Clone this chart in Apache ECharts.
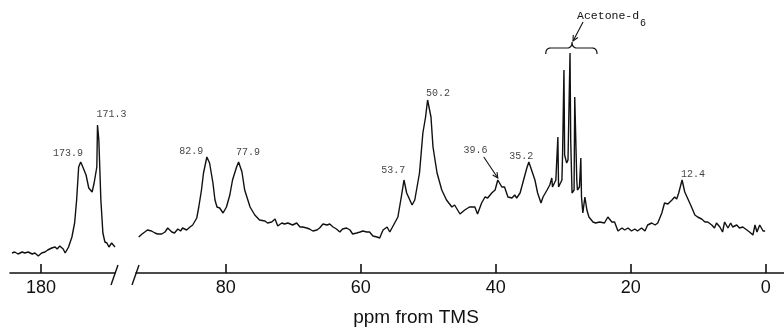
<!DOCTYPE html>
<html>
<head>
<meta charset="utf-8">
<script src="https://cdn.jsdelivr.net/npm/echarts@6/dist/echarts.min.js"></script>
<style>
  html, body { margin: 0; padding: 0; background: #fff; }
  #main { width: 784px; height: 329px; }
</style>
</head>
<body>
<div id="main"></div>
<script>
// 13C spectrum: [ppm, intensity]
const carbonylTrace = [
  [184.3, 2], [183.9, 3], [183.4, 1], [182.8, 3], [182.4, 2], [181.9, 3], [181.3, 1], [180.9, 2],
  [180.4, -1], [179.9, 2], [179.4, 3], [179.0, 5], [178.4, 7], [177.9, 8], [177.6, 6], [177.2, 9],
  [176.7, 6], [176.4, 2], [175.9, 8], [175.4, 18], [175.0, 32], [174.7, 55], [174.4, 88], [174.1, 93],
  [173.9, 90], [173.3, 80], [172.9, 67], [172.4, 63], [172.1, 72], [171.7, 88], [171.6, 130], [171.4, 115],
  [171.1, 55], [170.8, 22], [170.5, 13], [170.2, 12], [169.9, 8], [169.5, 12], [169.0, 8]
];

const aliphaticTrace = [
  [92.9, 18], [92.4, 21], [92.0, 23], [91.6, 25], [91.0, 24], [90.5, 22], [90.1, 21], [89.5, 21],
  [89.0, 23], [88.6, 27], [88.0, 23], [87.6, 22], [87.1, 26], [86.7, 24], [86.4, 27], [85.8, 25],
  [85.3, 28], [84.9, 30], [84.3, 37], [84.0, 48], [83.6, 65], [83.3, 82], [82.8, 98], [82.4, 92],
  [81.9, 72], [81.6, 55], [81.3, 48], [80.9, 47], [80.4, 42], [79.9, 48], [79.4, 60], [79.0, 75],
  [78.4, 88], [78.1, 93], [77.6, 83], [77.2, 65], [76.4, 48], [75.7, 40], [75.0, 35], [74.2, 34],
  [73.8, 32], [73.2, 33], [72.7, 36], [72.3, 29], [71.7, 32], [71.3, 31], [70.8, 32], [70.1, 30],
  [69.5, 32], [69.0, 28], [68.6, 28], [68.0, 27], [67.6, 26], [67.1, 24], [66.5, 25], [66.1, 27],
  [65.6, 31], [65.0, 30], [64.6, 31], [64.1, 28], [63.6, 26], [63.1, 23], [62.7, 26], [62.1, 27],
  [61.6, 25], [61.2, 21], [60.6, 22], [60.1, 23], [59.7, 24], [59.1, 23], [58.7, 23], [58.2, 19],
  [57.6, 18], [57.2, 17], [56.7, 25], [56.1, 28], [55.7, 23], [55.3, 28], [54.5, 38], [53.9, 62],
  [53.6, 75], [53.2, 62], [52.4, 50], [52.0, 55], [51.3, 82], [50.8, 122], [50.4, 138], [50.1, 155],
  [49.6, 138], [49.3, 108], [48.7, 82], [48.0, 65], [47.3, 55], [46.5, 48], [46.1, 50], [45.3, 41],
  [44.6, 45], [43.9, 48], [43.1, 48], [42.7, 41], [42.1, 52], [41.6, 58], [41.2, 57], [40.6, 62],
  [40.1, 65], [39.7, 75], [39.1, 68], [38.7, 68], [38.2, 58], [37.6, 57], [37.2, 60], [36.9, 57],
  [36.4, 62], [36.0, 72], [35.4, 87], [35.1, 93], [34.7, 85], [34.2, 75], [33.8, 62], [33.3, 52],
  [33.0, 58], [32.4, 65], [32.0, 70], [31.7, 77], [31.6, 68], [31.1, 75], [30.8, 118], [30.7, 68],
  [30.2, 75], [30.1, 102], [29.9, 185], [29.8, 100], [29.5, 92], [29.3, 95], [29.0, 202], [28.9, 115],
  [28.7, 62], [28.4, 65], [28.3, 158], [28.0, 75], [27.9, 65], [27.6, 68], [27.4, 97], [27.3, 58],
  [27.1, 42], [26.8, 58], [26.5, 45], [26.2, 38], [25.6, 33], [25.2, 32], [24.6, 33], [23.9, 32],
  [23.4, 38], [22.8, 33], [22.4, 33], [21.9, 24], [21.3, 27], [20.9, 25], [20.4, 27], [19.9, 24],
  [19.4, 26], [19.0, 24], [18.4, 27], [17.9, 24], [17.5, 30], [16.9, 32], [16.4, 30], [16.0, 32],
  [15.4, 42], [15.0, 52], [14.5, 51], [13.9, 55], [13.5, 58], [13.2, 56], [12.9, 62], [12.4, 75],
  [12.0, 63], [11.6, 57], [11.0, 48], [10.5, 40], [10.1, 38], [9.5, 36], [9.0, 33], [8.6, 33],
  [8.0, 30], [7.6, 27], [7.3, 32], [6.8, 28], [6.4, 23], [6.1, 33], [5.6, 27], [5.2, 32],
  [4.9, 28], [4.3, 30], [3.9, 27], [3.4, 28], [2.8, 25], [2.4, 23], [1.9, 20], [1.6, 30],
  [1.3, 23], [0.9, 30], [0.4, 24], [0.1, 24]
];

// labelled peaks
const peakPpm = [173.9, 171.3, 82.9, 77.9, 53.7, 50.2, 39.6, 35.2, 12.4];
const peakHeight = [93, 130, 98, 93, 75, 155, 75, 93, 75];
const peakPanel = [0, 0, 1, 1, 1, 1, 1, 1, 1];

// tick labels
const leftTicks = [180];
const rightTicks = [80, 60, 40, 20, 0];

// solvent bracket (ppm span) and tip
const solventSpan = [32.6, 25.0];
const solventTip = 28.7;

// label offsets from their peak (style only)
const labelOffsets = [[-14, -9], [12, -11], [-15, -6], [8, -10], [-10, -10], [11, -7], [-23, -30], [-7, -6], [11, -6]];

const ink = '#111';

const axisCommon = {
  type: 'value',
  inverse: true,
  axisLine: { show: true, onZero: false, lineStyle: { color: ink, width: 1.6 } },
  axisTick: { show: true, inside: true, length: 9, lineStyle: { color: ink, width: 1.6 } },
  axisLabel: { color: ink, fontFamily: 'Liberation Sans', fontSize: 18, margin: 6 },
  splitLine: { show: false }
};

const yCommon = { type: 'value', min: -18, max: 215, show: false };

function peakSeries(panel) {
  const data = [];
  peakPpm.forEach((p, i) => {
    if (peakPanel[i] !== panel) return;
    data.push({
      value: [p, peakHeight[i]],
      label: { offset: labelOffsets[i] }
    });
  });
  return {
    type: 'scatter',
    xAxisIndex: panel,
    yAxisIndex: panel,
    symbolSize: 1,
    itemStyle: { color: 'rgba(0,0,0,0)' },
    silent: true,
    z: 5,
    label: {
      show: true,
      position: 'inside',
      color: ink,
      fontFamily: 'Liberation Mono',
      fontSize: 10,
      formatter: (d) => d.value[0].toFixed(1)
    },
    data: data
  };
}

const chart = echarts.init(document.getElementById('main'));

const option = {
  animation: false,
  grid: [
    { left: 10, width: 105, top: 40, bottom: 56 },
    { left: 136, right: 0, top: 40, bottom: 56 }
  ],
  xAxis: [
    Object.assign({}, axisCommon, {
      gridIndex: 0, min: 169.0, max: 184.6,
      axisTick: Object.assign({}, axisCommon.axisTick, { customValues: leftTicks }),
      axisLabel: Object.assign({}, axisCommon.axisLabel, { customValues: leftTicks })
    }),
    Object.assign({}, axisCommon, {
      gridIndex: 1, min: -2.7, max: 93.3,
      axisTick: Object.assign({}, axisCommon.axisTick, { customValues: rightTicks }),
      axisLabel: Object.assign({}, axisCommon.axisLabel, { customValues: rightTicks })
    })
  ],
  yAxis: [
    Object.assign({ gridIndex: 0 }, yCommon),
    Object.assign({ gridIndex: 1 }, yCommon)
  ],
  series: [
    {
      type: 'line', xAxisIndex: 0, yAxisIndex: 0, showSymbol: false,
      lineStyle: { color: ink, width: 1.4 }, data: carbonylTrace
    },
    {
      type: 'line', xAxisIndex: 1, yAxisIndex: 1, showSymbol: false,
      lineStyle: { color: ink, width: 1.4 }, data: aliphaticTrace
    },
    peakSeries(0),
    peakSeries(1)
  ]
};

chart.setOption(option);

// decorations positioned from data coordinates
const toPx = (g, v) => chart.convertToPixel({ gridIndex: g }, v);
const stroke = { stroke: ink, lineWidth: 1.4, fill: null };

const leftEnd = toPx(0, [169.0, -18]);
const rightStart = toPx(1, [93.3, -18]);

// curly brace over the solvent lines
const b1 = toPx(1, [solventSpan[0], 201]);
const b2 = toPx(1, [solventSpan[1], 201]);
const bm = toPx(1, [solventTip, 207]);
const bt = toPx(1, [solventTip, 213]);
function quad(p0, c, p1) {
  const pts = [];
  for (let i = 0; i <= 6; i++) {
    const t = i / 6;
    pts.push([
      (1 - t) * (1 - t) * p0[0] + 2 * (1 - t) * t * c[0] + t * t * p1[0],
      (1 - t) * (1 - t) * p0[1] + 2 * (1 - t) * t * c[1] + t * t * p1[1]
    ]);
  }
  return pts;
}
const y0 = bm[1];
const bracePts = [].concat(
  quad([b1[0], b1[1]], [b1[0], y0], [b1[0] + 5, y0]),
  quad([bt[0] - 5, y0], [bt[0], y0], [bt[0], bt[1]]),
  quad([bt[0], bt[1]], [bt[0], y0], [bt[0] + 5, y0]),
  quad([b2[0] - 5, y0], [b2[0], y0], [b2[0], b2[1]])
);

function arrow(tip, dx, dy) {
  const len = Math.hypot(dx, dy);
  const ux = dx / len, uy = dy / len;
  const a = 0.45, h = 6;
  const w1 = [tip[0] + h * (ux * Math.cos(a) - uy * Math.sin(a)), tip[1] + h * (ux * Math.sin(a) + uy * Math.cos(a))];
  const w2 = [tip[0] + h * (ux * Math.cos(-a) - uy * Math.sin(-a)), tip[1] + h * (ux * Math.sin(-a) + uy * Math.cos(-a))];
  return [
    { type: 'line', shape: { x1: tip[0] + dx, y1: tip[1] + dy, x2: tip[0], y2: tip[1] }, style: { stroke: ink, lineWidth: 1.1 } },
    { type: 'polyline', shape: { points: [w1, tip, w2] }, style: { stroke: ink, lineWidth: 1.1, fill: null } }
  ];
}

const peak396 = toPx(1, [39.7, 77]);
const arrowTip = [bt[0] + 1, bt[1] - 1];

chart.setOption({
  graphic: [
    { type: 'line', shape: { x1: leftEnd[0] + 3, y1: leftEnd[1] - 8, x2: leftEnd[0] - 4, y2: leftEnd[1] + 12 }, style: stroke },
    { type: 'line', shape: { x1: rightStart[0] + 3, y1: rightStart[1] - 8, x2: rightStart[0] - 4, y2: rightStart[1] + 12 }, style: stroke },
    { type: 'polyline', shape: { points: bracePts }, style: { stroke: ink, lineWidth: 1.2, fill: null } },
    ...arrow(arrowTip, 10, -19),
    ...arrow(peak396, -14, -21),
    {
      type: 'text', x: bt[0] + 5, y: 16,
      style: { text: 'Acetone-d', fill: ink, font: '11.5px "Liberation Mono"', verticalAlign: 'middle', textAlign: 'left' }
    },
    {
      type: 'text', x: bt[0] + 5 + 63, y: 23,
      style: { text: '6', fill: ink, font: '10px "Liberation Mono"', verticalAlign: 'middle', textAlign: 'left' }
    },
    {
      type: 'text', x: 416, y: 318,
      style: { text: 'ppm from TMS', fill: ink, font: '19px "Liberation Sans"', verticalAlign: 'middle', textAlign: 'center' }
    }
  ]
});
</script>
</body>
</html>
